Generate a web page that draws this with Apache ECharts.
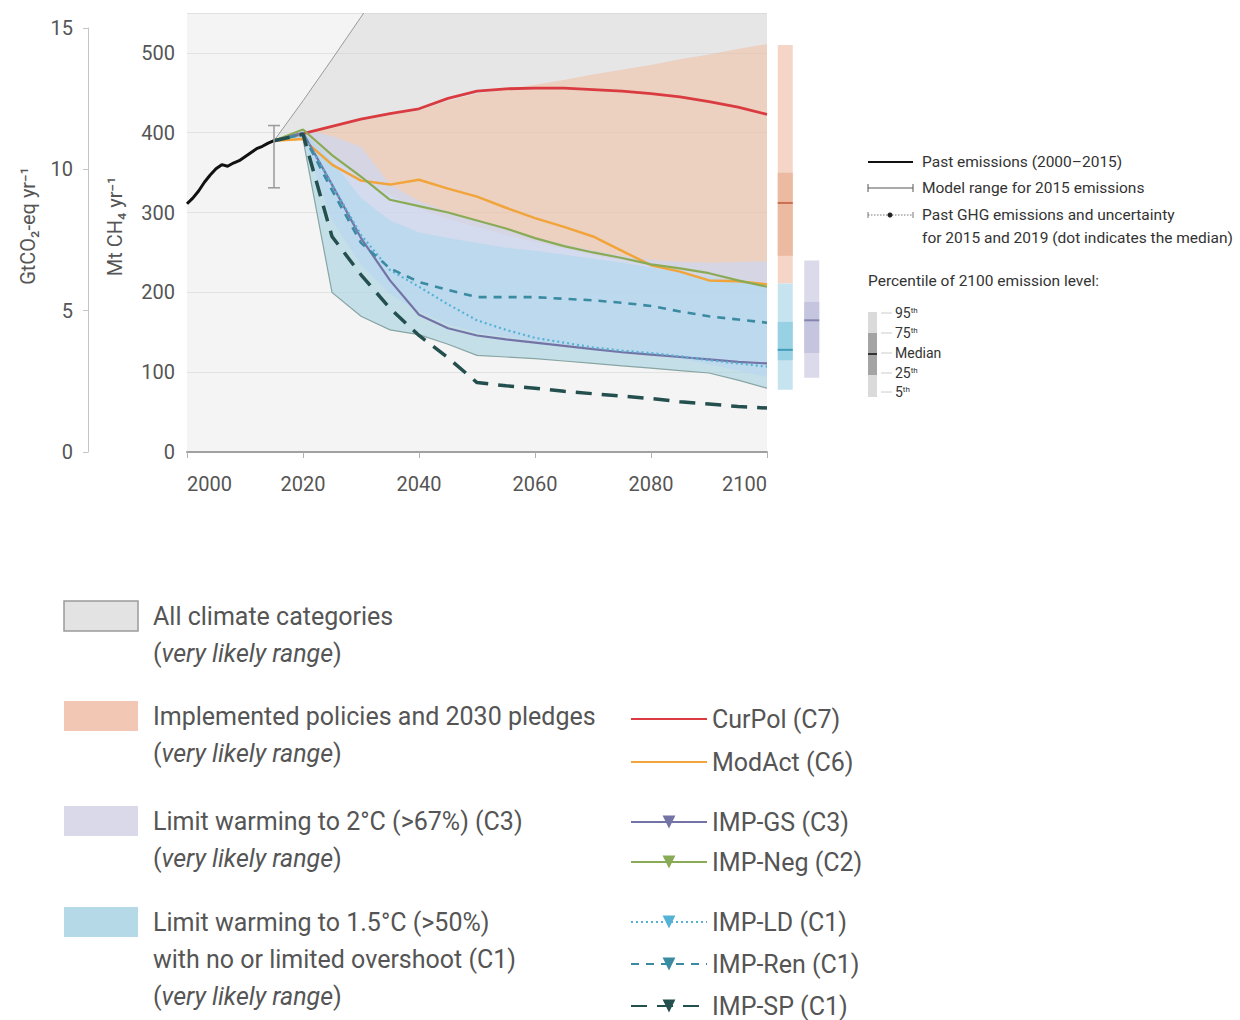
<!DOCTYPE html>
<html>
<head>
<meta charset="utf-8">
<title>CH4 emission pathways</title>
<script src="https://cdn.jsdelivr.net/npm/echarts@6/dist/echarts.min.js"></script>
<style>
    html, body { margin: 0; padding: 0; background: #fff; }
    #chart { width: 1240px; height: 1020px; }
</style>
</head>
<body>
<div id="chart"></div>
<script>
    // all values in Mt CH4 per year
    const pastYears = [2000, 2001, 2002, 2003, 2004, 2005, 2006, 2007, 2008, 2009, 2010, 2011, 2012, 2013, 2014, 2015]
    const pastValues = [311, 318, 327, 338, 347, 355, 360, 358, 362, 365, 370, 375, 380, 383, 387, 390]

    const years = [2015, 2020, 2025, 2030, 2035, 2040, 2045, 2050, 2055, 2060, 2065, 2070, 2075, 2080, 2085, 2090, 2095, 2100]

    const curPol = [390, 399, 408, 417, 424, 430, 443, 452, 455, 456, 456, 454, 452, 449, 445, 439, 432, 423]
    const modAct = [390, 392, 360, 340, 335, 341, 330, 320, 306, 293, 282, 270, 252, 234, 226, 215, 214, 210]
    const impGS = [390, 400, 335, 268, 215, 172, 155, 146, 141, 137, 133, 129, 125, 122, 119, 116, 113, 111]
    const impNeg = [390, 404, 372, 345, 316, 308, 300, 290, 280, 268, 258, 250, 243, 235, 230, 224, 215, 207]
    const impLD = [390, 398, 335, 272, 228, 207, 185, 165, 153, 143, 137, 131, 127, 124, 120, 115, 111, 107]
    const impRen = [390, 398, 328, 262, 230, 213, 203, 194, 194, 194, 192, 190, 187, 183, 176, 170, 166, 162]
    const impSP = [390, 398, 270, 222, 180, 146, 118, 87, 83, 80, 76, 73, 70, 67, 63, 60, 57, 55]

    // very likely ranges (lower / upper)
    const allLower = [390, 392, 200, 170, 153, 147, 135, 121, 119, 117, 114, 111, 108, 105, 102, 99, 90, 80]
    const allUpper = [390, 440, 492, 545, 600, 650, 700, 750, 800, 850, 900, 950, 1000, 1050, 1100, 1150, 1200, 1250]
    const polLower = [390, 394, 368, 342, 322, 305, 292, 282, 272, 263, 255, 247, 240, 233, 226, 219, 214, 211]
    const polUpper = [390, 398, 406, 415, 422, 428, 440, 449, 454, 460, 466, 473, 479, 485, 492, 498, 505, 511]
    const c3Lower = [390, 392, 290, 235, 198, 176, 160, 150, 144, 139, 135, 131, 127, 122, 117, 110, 102, 94]
    const c3Upper = [390, 404, 396, 382, 335, 314, 301, 290, 280, 268, 260, 252, 246, 241, 238, 237, 238, 239]
    const c1Lower = [390, 392, 200, 170, 153, 147, 135, 121, 119, 117, 114, 111, 108, 105, 102, 99, 90, 80]
    const c1Upper = [390, 402, 365, 318, 290, 275, 268, 262, 256, 252, 247, 242, 237, 231, 225, 219, 214, 211]

    // model range for 2015
    const range2015 = [2015, 331, 409]

    // 2100 percentiles: 5th, 25th, median, 75th, 95th
    const pctPolicies = [211, 246, 312, 350, 510]
    const pctC1 = [78, 115, 128, 163, 211]
    const pctC3 = [93, 124, 165, 188, 240]

    const mtTicks = [0, 100, 200, 300, 400, 500]
    const gtTicks = [0, 5, 10, 15]

    const font = 'Roboto, "Noto Sans", "DejaVu Sans", sans-serif'
    const textGrey = '#555'

    const pair = (xs, ys) => xs.map((x, i) => [x, ys[i]])

    // one polygon per range, built from the lower and upper arrays
    function band(name, lower, upper, fill, topEdge, bottomEdge) {
        return {
            name: name,
            type: 'custom',
            silent: true,
            data: years.map((y, i) => [y, lower[i], upper[i]]),
            encode: { x: 0, y: [1, 2] },
            renderItem: function (params, api) {
                if (params.dataIndexInside !== 0) return null
                let top = [], bottom = []
                for (let i = 0; i < params.dataInsideLength; i++) {
                    top.push(api.coord([api.value(0, i), api.value(2, i)]))
                    bottom.push(api.coord([api.value(0, i), api.value(1, i)]))
                }
                let cs = params.coordSys
                let children = [{
                    type: 'polygon',
                    shape: { points: top.concat(bottom.slice().reverse()) },
                    style: { fill: fill },
                }]
                if (topEdge) children.push({ type: 'polyline', shape: { points: top }, style: { stroke: topEdge, lineWidth: 1, fill: null } })
                if (bottomEdge) children.push({ type: 'polyline', shape: { points: bottom }, style: { stroke: bottomEdge, lineWidth: 1.2, fill: null } })
                return {
                    type: 'group',
                    clipPath: { type: 'rect', shape: { x: cs.x, y: cs.y, width: cs.width, height: cs.height } },
                    children: children,
                }
            },
        }
    }

    function path(name, values, color, width, type, marker) {
        return {
            name: name,
            type: 'line',
            data: pair(years, values),
            symbol: marker ? 'triangle' : 'none',
            symbolRotate: 180,
            symbolSize: 12,
            showSymbol: false,
            itemStyle: { color: color },
            lineStyle: { color: color, width: width, type: type },
            z: 5,
        }
    }

    function renderRange(params, api) {
        let lo = api.coord([api.value(0), api.value(1)])
        let hi = api.coord([api.value(0), api.value(2)])
        let st = { stroke: '#9a9a9a', lineWidth: 1.5 }
        return {
            type: 'group',
            children: [
                { type: 'line', shape: { x1: lo[0], y1: lo[1], x2: hi[0], y2: hi[1] }, style: st },
                { type: 'line', shape: { x1: lo[0] - 6, y1: lo[1], x2: lo[0] + 6, y2: lo[1] }, style: st },
                { type: 'line', shape: { x1: hi[0] - 6, y1: hi[1], x2: hi[0] + 6, y2: hi[1] }, style: st },
            ]
        }
    }

    const pctColors = [
        ['#f4d5c6', '#ecb9a1', '#c8704f'],
        ['#c6e4ef', '#98d0e4', '#3f9cba'],
        ['#dadaeb', '#c5c5df', '#8584b0'],
    ]
    const pctRows = [
        [0].concat(pctPolicies, [0]),
        [0].concat(pctC1, [1]),
        [1].concat(pctC3, [2]),
    ]

    function renderPct(params, api) {
        let x = api.value(0)
        let c = pctColors[api.value(6)]
        let p5 = api.coord([x, api.value(1)])
        let p25 = api.coord([x, api.value(2)])
        let p50 = api.coord([x, api.value(3)])
        let p75 = api.coord([x, api.value(4)])
        let p95 = api.coord([x, api.value(5)])
        let w = 15
        let left = p50[0] - w / 2
        return {
            type: 'group',
            children: [
                { type: 'rect', shape: { x: left, y: p95[1], width: w, height: p5[1] - p95[1] }, style: { fill: c[0] } },
                { type: 'rect', shape: { x: left, y: p75[1], width: w, height: p25[1] - p75[1] }, style: { fill: c[1] } },
                { type: 'line', shape: { x1: left, y1: p50[1], x2: left + w, y2: p50[1] }, style: { stroke: c[2], lineWidth: 2 } },
            ]
        }
    }

    function lineLegend(top, names, gap) {
        return {
            data: names,
            orient: 'vertical',
            left: 630,
            top: top,
            padding: 0,
            itemWidth: 76,
            itemHeight: 16,
            itemGap: gap,
            selectedMode: false,
            textStyle: { fontFamily: font, fontSize: 25, color: textGrey, lineHeight: 28 },
        }
    }
    const plain = { opacity: 0 }

    // legend for the shaded ranges, bottom left
    const bandKeys = [
        { y: 616, fill: '#e3e3e3', border: '#9a9a9a', text: 'All climate categories\n({i|very likely range})' },
        { y: 716, fill: '#f2c8b4', border: null, text: 'Implemented policies and 2030 pledges\n({i|very likely range})' },
        { y: 821, fill: '#d9d9e9', border: null, text: 'Limit warming to 2°C (>67%) (C3)\n({i|very likely range})' },
        { y: 922, fill: '#b5d9e6', border: null, text: 'Limit warming to 1.5°C (>50%)\nwith no or limited overshoot (C1)\n({i|very likely range})' },
    ]
    let graphics = []
    bandKeys.forEach(k => {
        graphics.push({
            type: 'rect',
            shape: { x: 64, y: k.y - 15, width: 74, height: 30 },
            style: { fill: k.fill, stroke: k.border || k.fill, lineWidth: k.border ? 1.5 : 0 },
        })
        graphics.push({
            type: 'text',
            x: 153,
            y: k.y - 18,
            style: {
                text: k.text,
                fontFamily: font, fontSize: 25, fill: textGrey, lineHeight: 37,
                verticalAlign: 'top',
                rich: { i: { fontFamily: font, fontSize: 25, fontStyle: 'italic', fill: textGrey, lineHeight: 37 } },
            }
        })
    })

    // small legend, right side
    const small = { fontFamily: font, fontSize: 15.5, fill: '#333', verticalAlign: 'middle' }
    graphics.push(
        { type: 'line', shape: { x1: 868, y1: 162, x2: 913, y2: 162 }, style: { stroke: '#111', lineWidth: 2 } },
        { type: 'text', x: 922, y: 162, style: Object.assign({ text: 'Past emissions (2000–2015)' }, small) },
        { type: 'line', shape: { x1: 868, y1: 188, x2: 913, y2: 188 }, style: { stroke: '#555', lineWidth: 1 } },
        { type: 'line', shape: { x1: 868, y1: 184, x2: 868, y2: 192 }, style: { stroke: '#555', lineWidth: 1 } },
        { type: 'line', shape: { x1: 913, y1: 184, x2: 913, y2: 192 }, style: { stroke: '#555', lineWidth: 1 } },
        { type: 'text', x: 922, y: 188, style: Object.assign({ text: 'Model range for 2015 emissions' }, small) },
        { type: 'line', shape: { x1: 868, y1: 215, x2: 913, y2: 215 }, style: { stroke: '#777', lineWidth: 1, lineDash: [1.5, 1.5] } },
        { type: 'line', shape: { x1: 868, y1: 212, x2: 868, y2: 218 }, style: { stroke: '#777', lineWidth: 1 } },
        { type: 'line', shape: { x1: 913, y1: 212, x2: 913, y2: 218 }, style: { stroke: '#777', lineWidth: 1 } },
        { type: 'circle', shape: { cx: 890, cy: 215, r: 2.5 }, style: { fill: '#222' } },
        { type: 'text', x: 922, y: 215, style: Object.assign({ text: 'Past GHG emissions and uncertainty' }, small) },
        { type: 'text', x: 922, y: 238, style: Object.assign({ text: 'for 2015 and 2019 (dot indicates the median)' }, small) },
        { type: 'text', x: 868, y: 281, style: Object.assign({ text: 'Percentile of 2100 emission level:' }, small) },
        { type: 'rect', shape: { x: 868, y: 312, width: 9, height: 85 }, style: { fill: '#dadada' } },
        { type: 'rect', shape: { x: 868, y: 333, width: 9, height: 42 }, style: { fill: '#a4a4a4' } },
        { type: 'line', shape: { x1: 868, y1: 354, x2: 877, y2: 354 }, style: { stroke: '#333', lineWidth: 2 } }
    )
    const pctLabels = [
        ['95{s|th}', 313], ['75{s|th}', 333], ['Median', 353], ['25{s|th}', 373], ['5{s|th}', 392],
    ]
    pctLabels.forEach(p => {
        graphics.push({ type: 'line', shape: { x1: 881, y1: p[1], x2: 892, y2: p[1] }, style: { stroke: '#ccc', lineWidth: 1 } })
        graphics.push({
            type: 'text', x: 895, y: p[1],
            style: {
                text: p[0], fontFamily: font, fontSize: 14, fill: '#333', verticalAlign: 'middle',
                rich: { s: { fontFamily: font, fontSize: 8, fill: '#333', verticalAlign: 'top', padding: [0, 0, 6, 0] } },
            }
        })
    })

    const axisText = { fontFamily: font, fontSize: 20, color: textGrey }

    let option = {
        animation: false,
        backgroundColor: '#fff',
        grid: [
            { left: 187, top: 13, width: 580, height: 439, show: true, backgroundColor: '#f4f4f4', borderWidth: 0, outerBoundsMode: 'none' },
            { left: 88, top: 28, width: 10, height: 424, show: false, outerBoundsMode: 'none' },
            { left: 772, top: 13, width: 53, height: 439, show: false, outerBoundsMode: 'none' },
        ],
        xAxis: [{
            gridIndex: 0,
            type: 'value',
            min: 2000,
            max: 2100,
            interval: 20,
            splitLine: { show: false },
            axisLine: { show: true, lineStyle: { color: '#a0a0a0', width: 2 } },
            axisTick: { show: true, length: 6, lineStyle: { color: '#b0b0b0' } },
            axisLabel: Object.assign({ margin: 22, alignMinLabel: 'left', alignMaxLabel: 'right',
                formatter: v => String(v) }, axisText),
        }, {
            gridIndex: 1, type: 'value', show: false, min: 0, max: 1,
        }, {
            gridIndex: 2, type: 'category', show: false, data: ['policies / C1', 'C3'],
        }],
        yAxis: [{
            gridIndex: 0,
            type: 'value',
            min: mtTicks[0],
            max: 550,
            interval: 100,
            name: 'Mt CH₄ yr⁻¹',
            nameLocation: 'middle',
            nameRotate: 90,
            nameGap: 62,
            nameTextStyle: { fontFamily: font, fontSize: 20, color: textGrey, padding: [0, 0, 0, 12] },
            axisLine: { show: false },
            axisTick: { show: false },
            axisLabel: Object.assign({ margin: 12, showMaxLabel: false,
                formatter: v => mtTicks.indexOf(v) >= 0 ? String(v) : '' }, axisText),
            splitLine: { show: true, lineStyle: { color: '#e2e2e2', width: 1 } },
        }, {
            gridIndex: 1,
            type: 'value',
            min: gtTicks[0],
            max: gtTicks[gtTicks.length - 1],
            interval: 5,
            name: 'GtCO₂-eq yr⁻¹',
            nameLocation: 'middle',
            nameRotate: 90,
            nameGap: 50,
            nameTextStyle: { fontFamily: font, fontSize: 20, color: textGrey, padding: [0, 0, 0, 28] },
            axisLine: { show: true, lineStyle: { color: '#c4c4c4', width: 1 } },
            axisTick: { show: true, length: 5, lineStyle: { color: '#c4c4c4' } },
            axisLabel: Object.assign({ margin: 15 }, axisText),
            splitLine: { show: false },
        }, {
            gridIndex: 2, type: 'value', show: false, min: 0, max: 550,
        }],
        legend: [
            lineLegend(705, [{ name: 'CurPol (C7)', itemStyle: plain }, { name: 'ModAct (C6)', itemStyle: plain }], 15),
            lineLegend(808, ['IMP-GS (C3)', 'IMP-Neg (C2)'], 12),
            lineLegend(908, ['IMP-LD (C1)', 'IMP-Ren (C1)', 'IMP-SP (C1)'], 14),
        ],
        graphic: graphics,
        series: [
            band('all', allLower, allUpper, 'rgba(200,200,200,0.3)', '#9a9a9a', null),
            band('policies', polLower, polUpper, 'rgba(241,185,153,0.5)', null, null),
            band('c3', c3Lower, c3Upper, 'rgba(205,215,240,0.75)', null, null),
            band('c1', c1Lower, c1Upper, 'rgba(163,215,236,0.5)', null, '#87a5a3'),
            {
                name: 'Past emissions',
                type: 'line',
                data: pair(pastYears, pastValues),
                symbol: 'none',
                lineStyle: { color: '#111', width: 3 },
                z: 5,
            },
            path('CurPol (C7)', curPol, '#d93b40', 2.8, 'solid', false),
            path('ModAct (C6)', modAct, '#f1a43a', 2.5, 'solid', false),
            path('IMP-Neg (C2)', impNeg, '#8aab55', 2.2, 'solid', true),
            path('IMP-GS (C3)', impGS, '#7473a6', 2.2, 'solid', true),
            path('IMP-LD (C1)', impLD, '#54b3d5', 2.2, [2, 3], true),
            path('IMP-Ren (C1)', impRen, '#3a8ba2', 2.6, [8, 7], true),
            path('IMP-SP (C1)', impSP, '#23504e', 3.5, [16, 10], true),
            {
                name: 'Model range 2015',
                type: 'custom',
                renderItem: renderRange,
                data: [range2015],
                z: 6,
            }, {
                name: '2100 percentiles',
                type: 'custom',
                xAxisIndex: 2,
                yAxisIndex: 2,
                renderItem: renderPct,
                data: pctRows,
            },
        ],
    }

    let chart = echarts.init(document.getElementById('chart'), null, { renderer: 'svg' })
    chart.setOption(option)
</script>
</body>
</html>
